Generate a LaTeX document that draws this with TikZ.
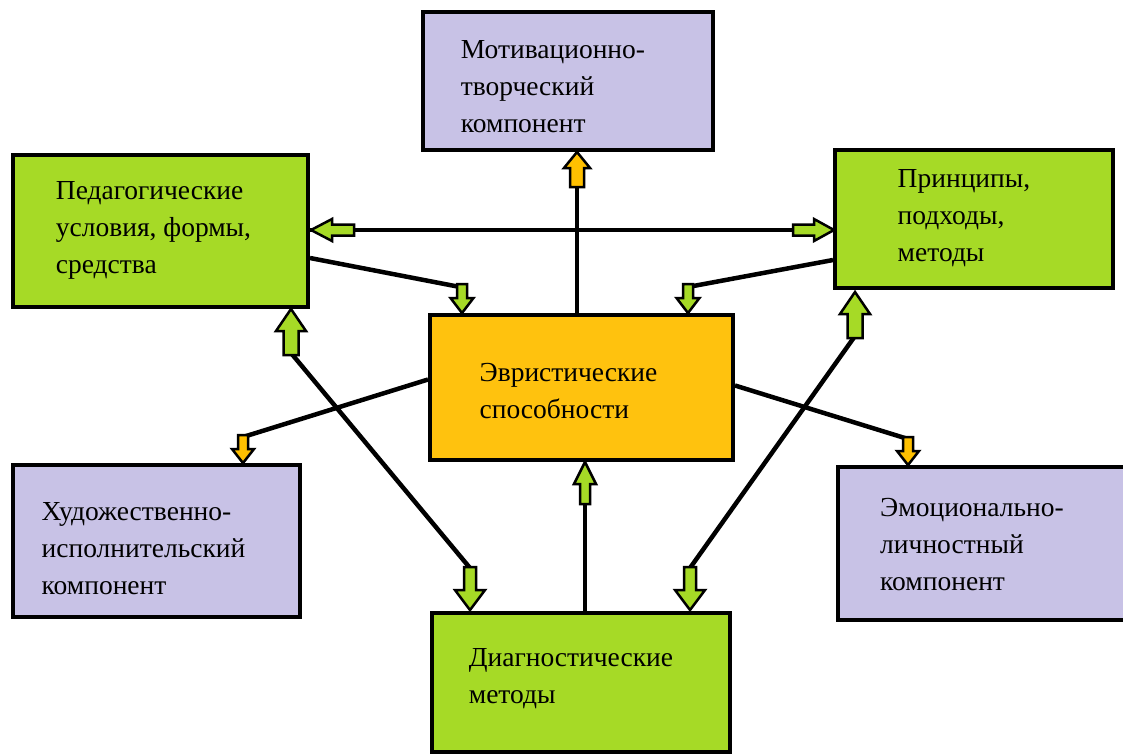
\documentclass[tikz,border=0pt]{standalone}
\usepackage{fontspec}
\setmainfont{Liberation Serif}
\newfontfamily\tnr{Liberation Serif}
\usetikzlibrary{calc}
\definecolor{grn}{RGB}{166,218,38}
\definecolor{prp}{RGB}{200,194,230}
\definecolor{org}{RGB}{255,194,14}
\definecolor{orgA}{RGB}{255,192,0}
\tikzset{
  box/.style={draw=black, line width=4pt, inner sep=0pt},
  txt/.style={align=left, inner sep=0pt, font=\tnr\fontsize{27.5}{37}\selectfont},
  link/.style={draw=black, line width=4.5pt},
  pics/barrow/.style n args={4}{code={
    \filldraw[draw=black, line width=2.5pt, line join=miter]
      (0,0) -- (#3,#2) -- (#4,#2) -- (#4,#1) -- (-#4,#1) -- (-#4,#2) -- (-#3,#2) -- cycle;
  }}
}
\begin{document}
\begin{tikzpicture}[x=1pt,y=-1pt]
\useasboundingbox (0,0) rectangle (1123,755);
\begin{scope}
\clip (0,0) rectangle (1123,755);
% boxes
\node[box, fill=prp, minimum width=290, minimum height=138] (mot) at (568,81) {};
\node[box, fill=grn, minimum width=295, minimum height=152] (ped) at (160.5,231) {};
\node[box, fill=grn, minimum width=278, minimum height=138] (pri) at (974,219) {};
\node[box, fill=org, minimum width=303, minimum height=145] (evr) at (581.5,387.5) {};
\node[box, fill=prp, minimum width=287, minimum height=152] (art) at (156.5,541) {};
\node[box, fill=prp, minimum width=292, minimum height=153] (emo) at (984,543.5) {};
\node[box, fill=grn, minimum width=298, minimum height=139] (dia) at (581,682.5) {};
\end{scope}
% texts
\node[txt] (motT) at ($(mot.center)+(-15,6)$) {Мотивационно-\\творческий\\компонент};
\node[txt] (pedT) at ($(ped.center)+(-7,-1)$) {Педагогические\\условия, формы,\\средства};
\node[txt] (priT) at ($(pri.center)+(-10,-1)$) {Принципы,\\подходы,\\методы};
\node[txt] (evrT) at ($(evr.center)+(-13,4)$) {Эвристические\\способности};
\node[txt] (artT) at ($(art.center)+(-13,8)$) {Художественно-\\исполнительский\\компонент};
\node[txt] (emoT) at ($(emo.center)+(-12,1)$) {Эмоционально-\\личностный\\компонент};
\node[txt] (diaT) at ($(dia.center)+(-10,-4)$) {Диагностические\\методы};
% arrow tails
\coordinate (tMot) at (577,185);
\coordinate (tPedE) at (460,287);
\coordinate (tPriE) at (688,287);
\coordinate (tArt) at (243,437);
\coordinate (tEmo) at (908,439);
\coordinate (tPedD) at (291,353);
\coordinate (tDiaP) at (470,568);
\coordinate (tPriD) at (855,336);
\coordinate (tDiaR) at (690,568);
\coordinate (tEvr) at (585,503);
% connectors
\draw[link] ($(evr.north)+(-4.5,0)$) -- (tMot);
\draw[link] ($(ped.east)+(0,-1)$) -- ($(pri.west)+(0,11)$);
\draw[link] ($(ped.east)+(0,27)$) -- (tPedE);
\draw[link] ($(pri.west)+(0,41)$) -- (tPriE);
\draw[link] ($(evr.west)+(0,-8)$) -- (tArt);
\draw[link] ($(evr.east)+(0,-2)$) -- (tEmo);
\draw[link] (tPedD) -- (tDiaP);
\draw[link] (tPriD) -- (tDiaR);
\draw[link] ($(dia.north)+(4,0)$) -- (tEvr);
% block arrows
\pic[fill=orgA] at (577,152) {barrow={35}{16}{13}{7}};
\pic[fill=grn, rotate=90] at (311,230) {barrow={43}{21}{11}{5.5}};
\pic[fill=grn, rotate=-90] at (834,230) {barrow={41}{20}{11}{5.5}};
\pic[fill=grn, rotate=180] at (462,313) {barrow={29}{15}{11.5}{5}};
\pic[fill=grn, rotate=180] at (688,313) {barrow={29}{15}{11.5}{5}};
\pic[fill=orgA, rotate=180] at (243,463) {barrow={28}{14}{11}{5}};
\pic[fill=orgA, rotate=180] at (908,465) {barrow={28}{14}{11}{5}};
\pic[fill=grn] at (291,309) {barrow={46}{22}{15}{7.5}};
\pic[fill=grn, rotate=180] at (470,610) {barrow={43}{20}{15}{6}};
\pic[fill=grn] at (855,292) {barrow={46}{22}{15}{7.5}};
\pic[fill=grn, rotate=180] at (690,610) {barrow={43}{20}{15}{6}};
\pic[fill=grn] at (585,462) {barrow={42}{22}{11}{5}};
\end{tikzpicture}
\end{document}
